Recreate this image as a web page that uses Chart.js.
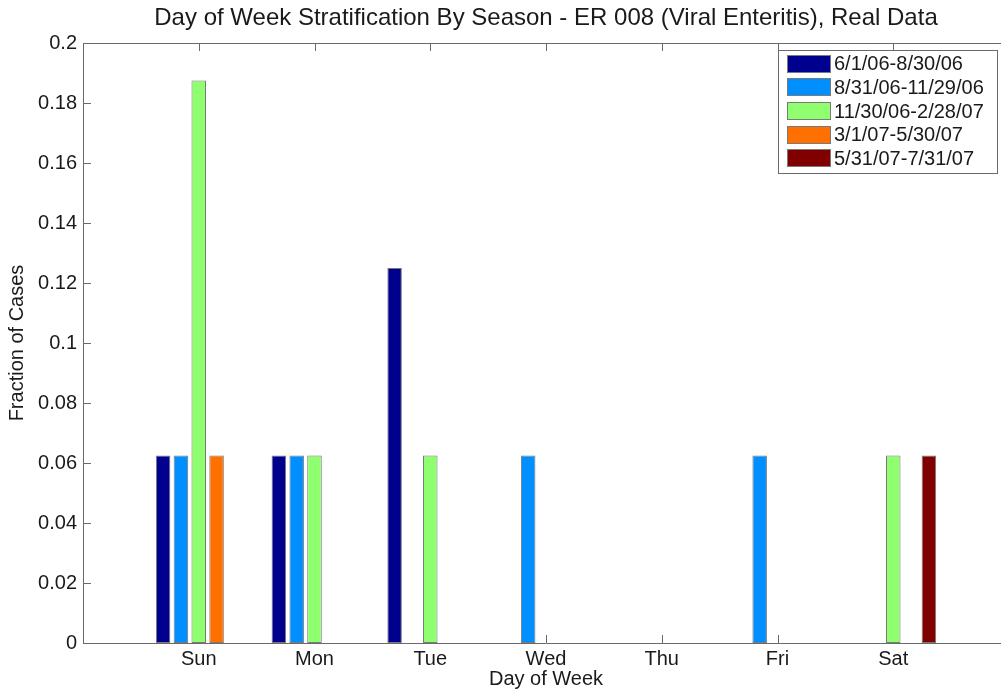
<!DOCTYPE html>
<html>
<head>
<meta charset="utf-8">
<script src="https://cdn.jsdelivr.net/npm/chart.js@4.4.1/dist/chart.umd.min.js"></script>
<style>
html, body { margin: 0; padding: 0; overflow: hidden; background: #fff; }
#wrap { width: 1009px; height: 692px; }
</style>
</head>
<body>
<div id="wrap"><canvas id="c" width="1009" height="692"></canvas></div>
<script>
const categories = ['Sun', 'Mon', 'Tue', 'Wed', 'Thu', 'Fri', 'Sat'];
const seriesLabels = ['6/1/06-8/30/06', '8/31/06-11/29/06', '11/30/06-2/28/07', '3/1/07-5/30/07', '5/31/07-7/31/07'];
const series1 = [0.0625, 0.0625, 0.125, 0, 0, 0, 0];
const series2 = [0.0625, 0.0625, 0, 0.0625, 0, 0.0625, 0];
const series3 = [0.1875, 0.0625, 0.0625, 0, 0, 0, 0.0625];
const series4 = [0.0625, 0, 0, 0, 0, 0, 0];
const series5 = [0, 0, 0, 0, 0, 0, 0.0625];
const yTicks = [0, 0.02, 0.04, 0.06, 0.08, 0.1, 0.12, 0.14, 0.16, 0.18, 0.2];
const colors = ['#00008F', '#008FFF', '#8FFF70', '#FF7000', '#800000'];

const allSeries = [series1, series2, series3, series4, series5];
const FONT = "'Liberation Sans', Arial, Helvetica, sans-serif";
const AXIS = '#6a6a6a';
const TEXT = '#1a1a1a';

const datasets = allSeries.map((s, d) => ({
  label: seriesLabels[d],
  data: categories.map((c, i) => ({ x: i + 1, y: s[i] })),
  backgroundColor: colors[d],
  borderColor: '#7a7a7a',
  borderWidth: 1,
  borderSkipped: false,
  categoryPercentage: 0.77,
  barPercentage: 0.815
}));

const axesPlugin = {
  id: 'matlabAxes',
  beforeDatasetsDraw(chart) {
    const { ctx, chartArea: { left, top, right, bottom }, scales: { x, y } } = chart;
    ctx.save();
    ctx.strokeStyle = AXIS;
    ctx.lineWidth = 1;
    ctx.beginPath();
    ctx.moveTo(left, top + 0.5);
    ctx.lineTo(right, top + 0.5);
    y.ticks.forEach(t => {
      const py = Math.round(y.getPixelForValue(t.value)) + 0.5;
      ctx.moveTo(left, py); ctx.lineTo(left + 8, py);
      ctx.moveTo(right, py); ctx.lineTo(right - 8, py);
    });
    x.ticks.forEach(t => {
      const px = Math.round(x.getPixelForValue(t.value)) + 0.5;
      ctx.moveTo(px, bottom); ctx.lineTo(px, bottom - 8);
      ctx.moveTo(px, top); ctx.lineTo(px, top + 8);
    });
    ctx.stroke();
    ctx.restore();
  },
  afterDraw(chart) {
    const { ctx } = chart;
    const bx = 778, by = 50, bw = 219, bh = 123;
    ctx.save();
    ctx.fillStyle = '#fff';
    ctx.fillRect(bx, by, bw, bh);
    ctx.strokeStyle = AXIS;
    ctx.lineWidth = 1;
    ctx.strokeRect(bx + 0.5, by + 0.5, bw, bh);
    ctx.font = '20px ' + FONT;
    ctx.textBaseline = 'middle';
    ctx.textAlign = 'left';
    chart.data.datasets.forEach((ds, i) => {
      const cy = 63.7 + i * 23.65;
      ctx.fillStyle = ds.backgroundColor;
      ctx.fillRect(787, Math.round(cy - 9), 44, 18);
      ctx.strokeStyle = '#7a7a7a';
      ctx.strokeRect(787.5, Math.round(cy - 9) + 0.5, 43, 17);
      ctx.fillStyle = TEXT;
      ctx.fillText(ds.label, 834, cy + 1);
    });
    ctx.restore();
  }
};

new Chart(document.getElementById('c'), {
  type: 'bar',
  data: { datasets },
  options: {
    responsive: false,
    animation: false,
    devicePixelRatio: 1,
    layout: { padding: 0 },
    plugins: {
      legend: { display: false },
      tooltip: { enabled: false },
      title: {
        display: true,
        fullSize: false,
        text: 'Day of Week Stratification By Season - ER 008 (Viral Enteritis), Real Data',
        color: TEXT,
        font: { family: FONT, size: 24, weight: 'normal' },
        padding: { top: 4.1, bottom: 10.1 }
      }
    },
    scales: {
      x: {
        type: 'linear',
        position: 'bottom',
        offset: false,
        min: 0,
        max: 8,
        grid: { display: false, drawTicks: false, offset: false },
        border: { display: true, color: AXIS, width: 1 },
        afterBuildTicks: (s) => { s.ticks = categories.map((c, i) => ({ value: i + 1 })); },
        afterFit: (s) => { s.height = 49; },
        ticks: {
          autoSkip: false,
          maxRotation: 0,
          padding: 4,
          color: TEXT,
          font: { family: FONT, size: 20 },
          callback: (v) => categories[Math.round(v) - 1] || ''
        },
        title: {
          display: true,
          text: 'Day of Week',
          color: TEXT,
          font: { family: FONT, size: 20 },
          padding: { top: 0, bottom: 1 }
        }
      },
      y: {
        type: 'linear',
        min: 0,
        max: 0.2,
        grid: { display: false, drawTicks: false },
        border: { display: true, color: AXIS, width: 1 },
        afterBuildTicks: (s) => { s.ticks = yTicks.map(v => ({ value: v })); },
        afterFit: (s) => { s.width = 83; },
        ticks: {
          padding: 6,
          color: TEXT,
          font: { family: FONT, size: 20 },
          callback: (v) => String(+(+v).toFixed(2))
        },
        title: {
          display: true,
          text: 'Fraction of Cases',
          color: TEXT,
          font: { family: FONT, size: 20 },
          padding: { top: 5, bottom: 0 }
        }
      }
    }
  },
  plugins: [axesPlugin]
});
</script>
</body>
</html>
